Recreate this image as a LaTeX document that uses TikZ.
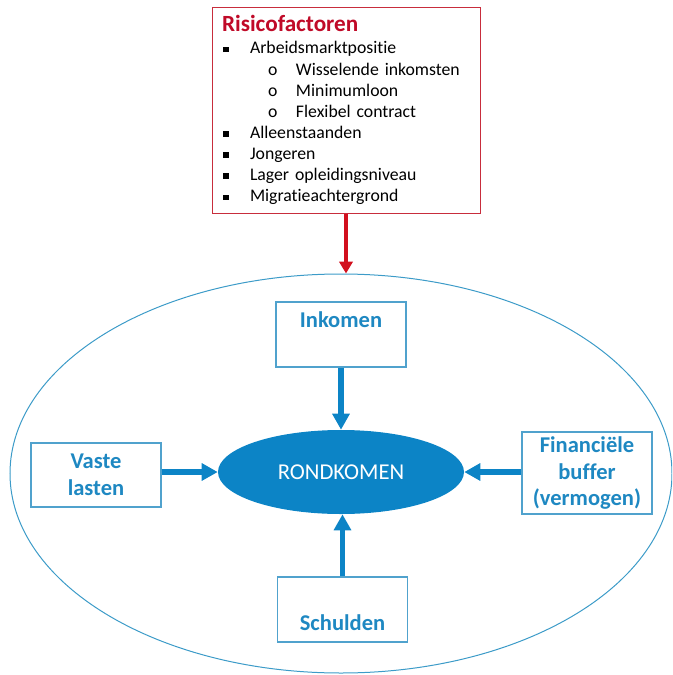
\documentclass[tikz,border=0pt]{standalone}
\usepackage{fontspec}
\setmainfont{Carlito}[Ligatures=NoCommon]
\usepackage{tikz}
\usetikzlibrary{arrows.meta}
\usetikzlibrary{shapes.geometric}

\definecolor{riskred}{RGB}{192,10,40}
\definecolor{riskline}{RGB}{200,45,60}
\definecolor{arrowred}{RGB}{210,16,30}
\definecolor{boxblue}{RGB}{80,162,205}
\definecolor{textblue}{RGB}{30,136,194}
\definecolor{fillblue}{RGB}{12,132,198}
\definecolor{rimblue}{RGB}{60,155,200}

\newcommand{\sqbul}{\makebox[21pt][l]{\hspace*{1.1pt}\rule[1.4pt]{4pt}{4pt}}}
\newcommand{\subbul}{\makebox[55.5pt][l]{\hspace*{34.5pt}o}}

\tikzset{
  bluebox/.style={draw=boxblue, line width=0.8pt, fill=white, text=textblue,
    font=\fontsize{16.9}{20}\selectfont\bfseries, align=center,
    minimum width=97.5pt, minimum height=48.75pt, inner sep=0pt},
  bluearrow/.style={draw=fillblue, line width=3.8pt, -{Triangle[length=12pt,width=12.5pt]}},
  redarrow/.style={draw=arrowred, line width=3.4pt, -{Triangle[length=9pt,width=10pt]}},
}

\begin{document}
\begin{tikzpicture}[x=0.75pt,y=0.75pt,yscale=-1,xscale=1]
\useasboundingbox (0,0) rectangle (672,675);
\clip (0,0) rectangle (672,675);

%Shape: Ellipse (outer frame)
\node[ellipse, draw=rimblue, line width=0.75pt, minimum width=496.5pt, minimum height=299.25pt, inner sep=0pt] (kader) at (341,473.5) {};

%Shape: Rectangle (risk factors)
\node[draw=riskline, line width=0.75pt, fill=white, minimum width=201pt, minimum height=154.5pt,
  text width=186pt, inner xsep=7.5pt, inner ysep=0pt, align=left,
  font=\fontsize{13.3}{15.85}\selectfont] (risk) at (346,110) {%
  {\color{riskred}\bfseries\fontsize{17.4}{18}\selectfont Risicofactoren}\\[1pt]
  \sqbul Arbeidsmarktpositie\\
  \subbul Wisselende inkomsten\\
  \subbul Minimumloon\\
  \subbul Flexibel contract\\
  \sqbul Alleenstaanden\\
  \sqbul Jongeren\\
  \sqbul Lager opleidingsniveau\\
  \sqbul Migratieachtergrond};

%Shape: Ellipse (centre)
\node[ellipse, fill=fillblue, text=white, font=\fontsize{17}{20}\selectfont,
  minimum width=184.5pt, minimum height=63pt, inner sep=0pt] (rond) at (341,472) {RONDKOMEN};

%Shape: Rectangles (factors)
\node[bluebox, text height=10pt, text depth=19.8pt] (inkomen) at (341,334.5) {Inkomen};
\node[bluebox, minimum height=48pt] (vaste) at (96,475) {Vaste\\lasten};
\node[bluebox, minimum height=61.5pt] (buffer) at (587,473) {Financiële\\buffer\\(vermogen)};
\node[bluebox, text height=31pt, text depth=0pt] (schulden) at (342.5,609.5) {Schulden};

%Arrows
\draw[redarrow] (risk.south) -- (risk.south |- kader.north);
\draw[bluearrow] (inkomen) -- (rond);
\draw[bluearrow] (vaste.east |- rond.west) -- (rond.west);
\draw[bluearrow] (buffer.west |- rond.east) -- (rond.east);
\draw[bluearrow] (schulden.north) -- (schulden.north |- rond.south);
\end{tikzpicture}
\end{document}
